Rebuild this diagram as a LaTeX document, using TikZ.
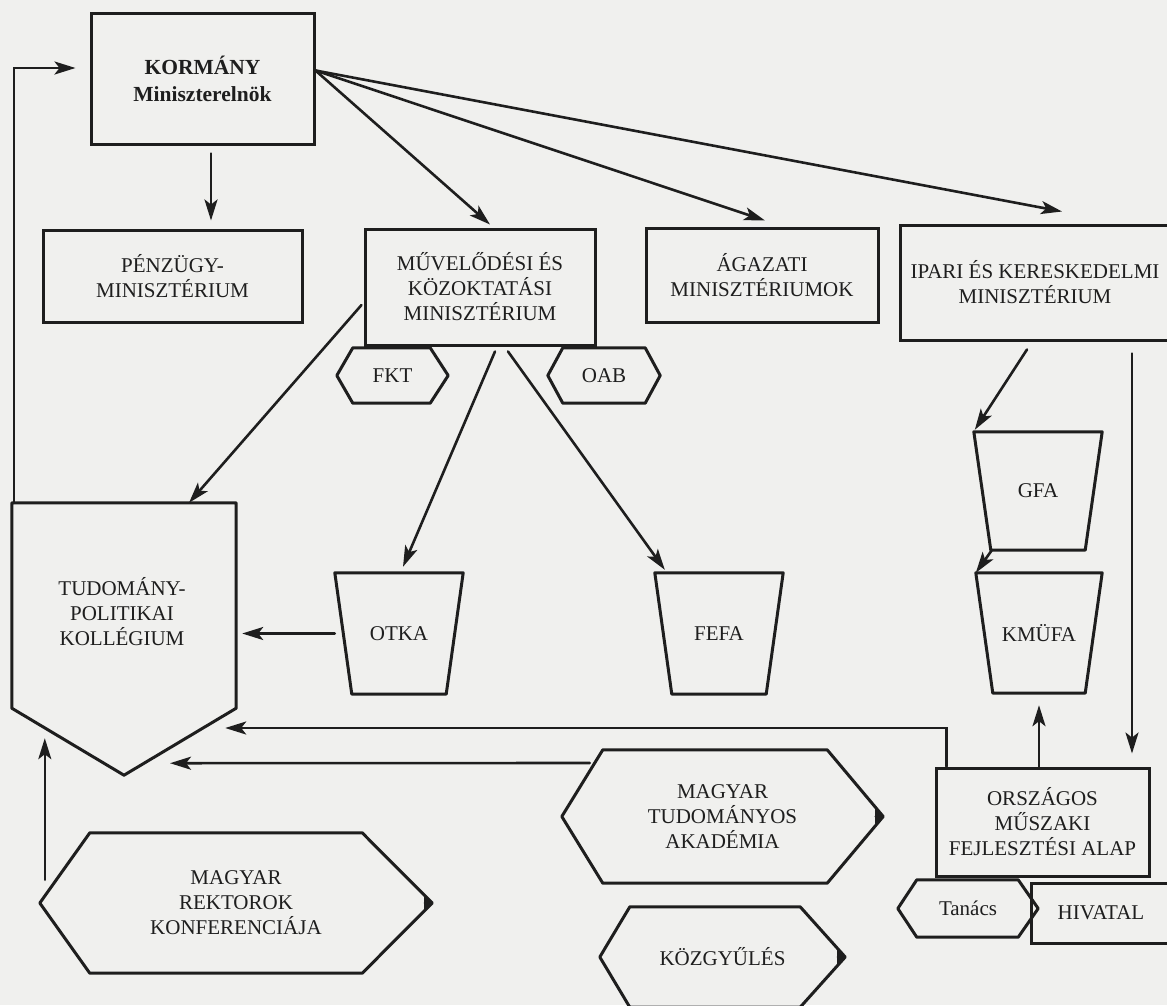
\documentclass[tikz,border=0pt]{standalone}
\usepackage{fontspec}
\setmainfont{Liberation Serif}
\usetikzlibrary{arrows.meta,calc}
\definecolor{papir}{RGB}{240,240,238}
\definecolor{tinta}{RGB}{30,30,30}
\tikzset{
  box/.style={draw=tinta, line width=3pt, inner sep=0pt, align=center},
  keret/.style={inner sep=0pt, align=center},
  nyil/.style={draw=tinta, line width=2.6pt, -{Stealth[length=21pt,width=13pt,inset=5pt]}},
  vonal/.style={draw=tinta, line width=3pt, line join=round},
  hegy/.style={draw=tinta, line width=2.4pt, -{Triangle[length=8pt,width=15pt]}},
}
% hatszog: nev, bal csucs, jobb csucs
\newcommand{\hatszog}[3]{%
  \draw[vonal] (#1.west) -- ([xshift=#2]#1.north west) -- ([xshift=-#3]#1.north east)
    -- (#1.east) -- ([xshift=-#3]#1.south east) -- ([xshift=#2]#1.south west) -- cycle;}
% kocka (trapez): nev, also behuzas
\newcommand{\kocka}[2]{%
  \draw[vonal] (#1.north west) -- (#1.north east) -- ([xshift=-#2]#1.south east)
    -- ([xshift=#2]#1.south west) -- cycle;}
\begin{document}
\begin{tikzpicture}[x=1pt, y=-1pt, font=\fontsize{21}{25}\selectfont, text=tinta, line cap=round]
  \useasboundingbox (0,0) rectangle (1167,1005);
  \fill[papir] (0,0) rectangle (1167,1005);
  \clip (0,0) rectangle (1167,1005);
  % dobozok
  \node[box, minimum width=223pt, minimum height=131pt, font=\fontsize{21.5}{27}\selectfont\bfseries] (korm) at (202.5,78.5) {KORMÁNY\\Miniszterelnök};
  \node[box, minimum width=259pt, minimum height=92pt] (pz) at (172.5,276) {PÉNZÜGY-\\MINISZTÉRIUM};
  \node[box, minimum width=230pt, minimum height=116pt] (mkm) at (480,287) {MŰVELŐDÉSI ÉS\\KÖZOKTATÁSI\\MINISZTÉRIUM};
  \node[box, minimum width=232pt, minimum height=94pt] (ag) at (762,275) {ÁGAZATI\\MINISZTÉRIUMOK};
  \node[box, minimum width=270pt, minimum height=115pt] (ikm) at (1035,282.5) {IPARI ÉS KERESKEDELMI\\MINISZTÉRIUM};
  \node[box, minimum width=213pt, minimum height=108pt] (omfa) at (1042.5,822) {ORSZÁGOS\\MŰSZAKI\\FEJLESZTÉSI ALAP};
  \node[box, minimum width=140pt, minimum height=60pt] (hiv) at (1101,913) {HIVATAL};
  % hatszogek, trapezok
  \node[keret, minimum width=111pt, minimum height=55pt] (fkt) at (392.5,375.5) {FKT};
  \node[keret, minimum width=112pt, minimum height=55pt] (oab) at (604,375.5) {OAB};
  \node[keret, minimum width=321pt, minimum height=133pt] (mta) at (722.5,816.5) {MAGYAR\\TUDOMÁNYOS\\AKADÉMIA};
  \node[keret, minimum width=245pt, minimum height=100pt] (kgy) at (722.5,957) {KÖZGYŰLÉS};
  \node[keret, minimum width=392pt, minimum height=140pt] (mrk) at (236,903) {MAGYAR\\REKTOROK\\KONFERENCIÁJA};
  \node[keret, minimum width=140pt, minimum height=57pt] (tan) at (968,908.5) {Tanács};
  \node[keret, minimum width=128pt, minimum height=121pt] (otka) at (399,633.5) {OTKA};
  \node[keret, minimum width=128pt, minimum height=121pt] (fefa) at (719,633.5) {FEFA};
  \node[keret, minimum width=128pt, minimum height=118pt] (gfa) at (1038,491) {GFA};
  \node[keret, minimum width=126pt, minimum height=120pt] (kmufa) at (1039,633) {KMÜFA};
  \node[keret, minimum width=224pt, minimum height=272pt] (tpk) at (124,639) {};
  \node[keret] (tpkszoveg) at ($(tpk.center)+(-2,-27)$) {TUDOMÁNY-\\POLITIKAI\\KOLLÉGIUM};
  \hatszog{fkt}{16pt}{18pt}
  \hatszog{oab}{15pt}{15pt}
  \hatszog{mta}{41pt}{56pt}
  \hatszog{kgy}{30pt}{45pt}
  \hatszog{mrk}{50pt}{70pt}
  \hatszog{tan}{19pt}{20pt}
  \kocka{otka}{17pt}
  \kocka{fefa}{17pt}
  \kocka{gfa}{17pt}
  \kocka{kmufa}{17pt}
  \draw[vonal] (tpk.north west) -- (tpk.north east) -- ([yshift=67pt]tpk.south east)
    -- (tpk.south) -- ([yshift=67pt]tpk.south west) -- cycle;
  \draw[hegy] ($(mta.east)+(-4,0)$) -- (mta.east);
  \draw[hegy] ($(kgy.east)+(-4,0)$) -- (kgy.east);
  \draw[hegy] ($(mrk.east)+(-4,0)$) -- (mrk.east);
  % nyilak
  \coordinate (kout) at ($(korm.east)+(0,-8)$);
  \draw[nyil] ($(korm.south)+(8.5,8)$) -- ($(pz.north)+(38.5,-8)$);
  \draw[nyil] (kout) -- ($(mkm.north)+(10,-3)$);
  \draw[nyil] (kout) -- ($(ag.north)+(3,-6)$);
  \draw[nyil] (kout) -- ($(ikm.north)+(27,-12)$);
  \draw[nyil] ($(mkm.west)+(-2,18)$) -- ($(tpk.north)+(65,0)$);
  \draw[nyil] ($(mkm.south)+(15,5)$) -- ($(otka.north)+(4,-6)$);
  \draw[nyil] ($(mkm.south)+(28,5)$) -- ($(fefa.north west)+(10,-3)$);
  \draw[nyil, shorten >=6pt] (otka.west) -- (otka.west -| tpk.east);
  \draw[nyil] ($(ikm.south)+(-8,8)$) -- ($(gfa.north west)+(1,-2)$);
  \draw[nyil] ($(gfa.south west)+(18,0)$) -- (kmufa.north west);
  \draw[nyil] ($(ikm.south)+(97,12)$) -- ($(omfa.north)+(89.5,-13)$);
  \draw[nyil] ($(omfa.north)+(-3.5,0)$) -- ($(kmufa.south)+(0,12)$);
  \draw[nyil] ($(omfa.north west)+(12,0)$) |- ($(tpk.east)+(-11,89)$);
  \draw[nyil] ($(mta.west)+(28,-53.5)$) -- ($(tpk.south)+(46,-12)$);
  \draw[nyil] ($(mrk.north west)+(5,47)$) -- ($(tpk.south west)+(33,-37)$);
  \draw[nyil] ($(tpk.north west)+(2,0)$) |- ($(korm.west)+(-14,-10.5)$);
\end{tikzpicture}
\end{document}
